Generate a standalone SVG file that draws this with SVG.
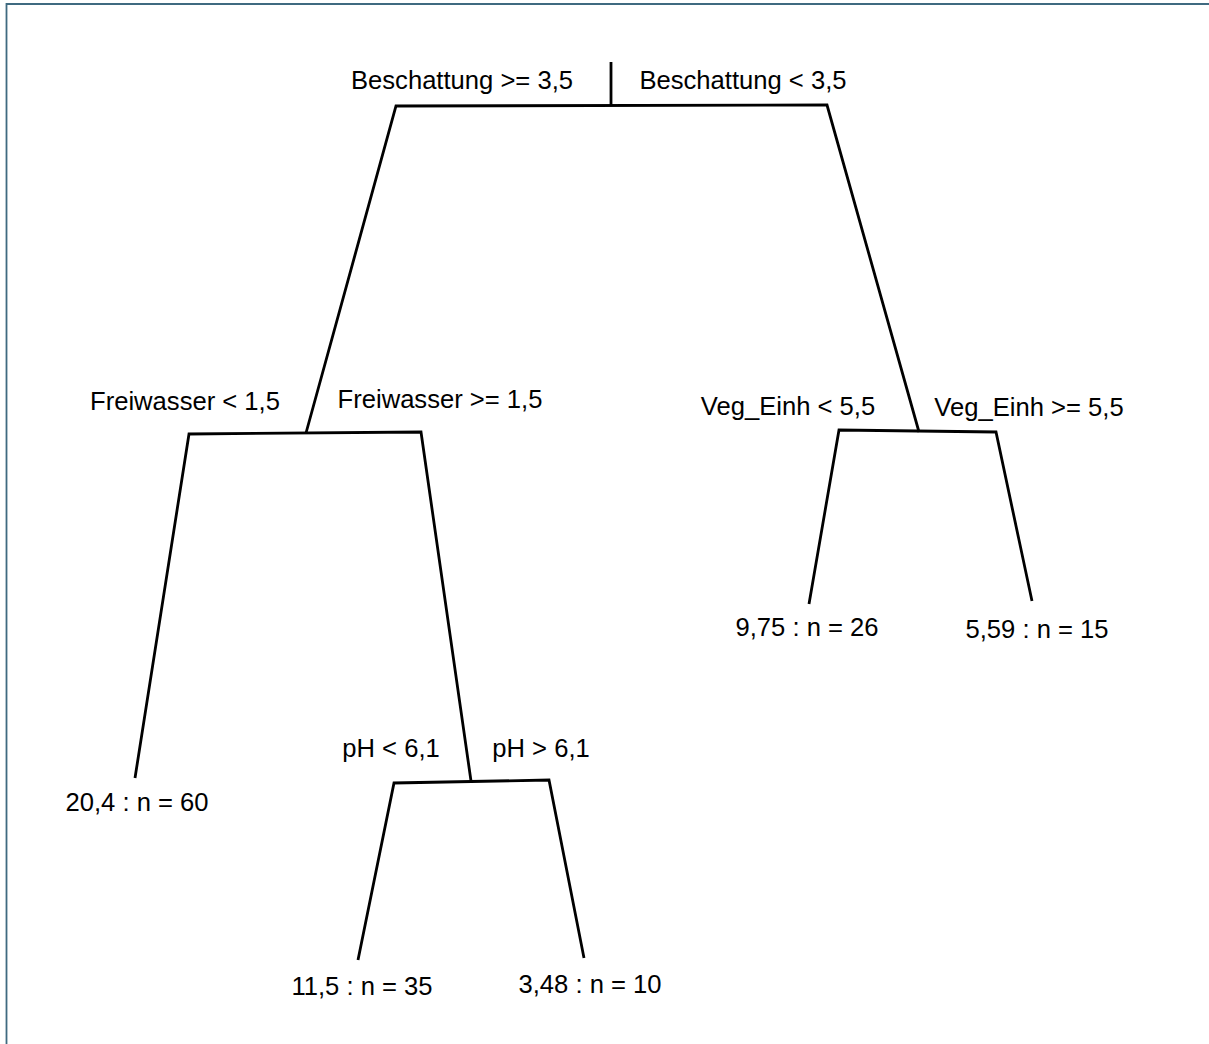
<svg xmlns="http://www.w3.org/2000/svg" width="1209" height="1044" viewBox="0 0 1209 1044">
  <style>
    .frame { fill: none; stroke: #3f6a80; stroke-width: 1.8; }
    .edge { fill: none; stroke: #000; stroke-width: 2.8; stroke-linejoin: miter; }
    text { font-family: "Liberation Sans", Arial, sans-serif; font-size: 25.6px; fill: #000; text-anchor: middle; }
  </style>
  <rect width="1209" height="1044" fill="#fff"/>
  <!-- outer frame (only left and top edges fall inside the canvas) -->
  <path class="frame" d="M6.5,1044 V4 H1209"/>

  <g id="connectors">
    <!-- root split -->
    <path class="edge" d="M611,62 V106"/>
    <path class="edge" d="M306,433 L396,106 L827,105 L919,432"/>
    <!-- Freiwasser split -->
    <path class="edge" d="M135,778 L189,434 L421,432 L471,781"/>
    <!-- pH split -->
    <path class="edge" d="M358,960 L394,783 L549,780 L584,958"/>
    <!-- Veg_Einh split -->
    <path class="edge" d="M809,604 L839,430 L996,432 L1032,601"/>
  </g>

  <g id="root">
    <text x="462" y="89">Beschattung &gt;= 3,5</text>
    <text x="743" y="89">Beschattung &lt; 3,5</text>
  </g>
  <g id="split-freiwasser">
    <text x="185" y="410">Freiwasser &lt; 1,5</text>
    <text x="440" y="408">Freiwasser &gt;= 1,5</text>
  </g>
  <g id="split-veg">
    <text x="788" y="415">Veg_Einh &lt; 5,5</text>
    <text x="1029" y="416">Veg_Einh &gt;= 5,5</text>
  </g>
  <g id="split-ph">
    <text x="391" y="757">pH &lt; 6,1</text>
    <text x="541" y="757">pH &gt; 6,1</text>
  </g>
  <g id="leaf-1">
    <text x="137" y="811">20,4 : n = 60</text>
  </g>
  <g id="leaf-2">
    <text x="362" y="995">11,5 : n = 35</text>
  </g>
  <g id="leaf-3">
    <text x="590" y="993">3,48 : n = 10</text>
  </g>
  <g id="leaf-4">
    <text x="807" y="636">9,75 : n = 26</text>
  </g>
  <g id="leaf-5">
    <text x="1037" y="638">5,59 : n = 15</text>
  </g>
</svg>
